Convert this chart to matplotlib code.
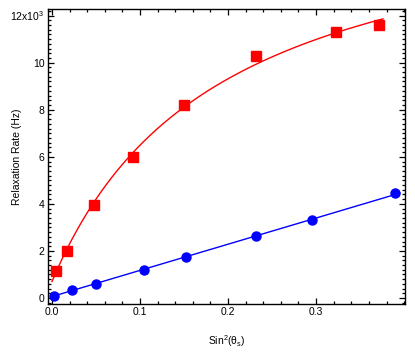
import numpy as np
import matplotlib
matplotlib.use("Agg")
import matplotlib.pyplot as plt
from matplotlib.ticker import MultipleLocator, FixedLocator, FixedFormatter

plt.rcParams['font.family'] = ['Liberation Sans', 'DejaVu Sans']
plt.rcParams['mathtext.fontset'] = 'custom'
plt.rcParams['mathtext.rm'] = 'Liberation Sans'
plt.rcParams['mathtext.it'] = 'Liberation Sans'

# data (rates in units of 10^3 Hz)
red_x = [0.005, 0.017, 0.048, 0.092, 0.150, 0.232, 0.323, 0.372]
red_y = [1.15, 2.00, 3.95, 6.00, 8.20, 10.30, 11.30, 11.60]
blue_x = [0.002, 0.023, 0.050, 0.104, 0.152, 0.232, 0.295, 0.390]
blue_y = [0.10, 0.35, 0.60, 1.20, 1.75, 2.62, 3.30, 4.45]

# fit parameters for red curve: y = c + a*x/(b+x)
red_fit_c, red_fit_a, red_fit_b = 0.70, 16.8, 0.19

y_ticks = [0, 2, 4, 6, 8, 10, 12]
y_ticklabels = ['0', '2', '4', '6', '8', '10', r'12x10$^{3}$']
x_ticks = [0.0, 0.1, 0.2, 0.3]
x_ticklabels = ['0.0', '0.1', '0.2', '0.3']

fig = plt.figure(figsize=(4.15, 3.55), dpi=100)
ax = fig.add_axes([48/415, 1-304/355, (405-48)/415, (304-9)/355])

xr = np.linspace(0.0, 0.376, 200)
ax.plot(xr, red_fit_c + red_fit_a*xr/(red_fit_b+xr), color='#ff0000', lw=1.0, zorder=2)
p = np.polyfit(blue_x, blue_y, 1)
xb = np.linspace(0.0, 0.395, 50)
ax.plot(xb, np.polyval(p, xb), color='#0000ff', lw=1.0, zorder=2)

ax.plot(red_x, red_y, 's', color='#ff0000', ms=6.5, mec='#ff0000', zorder=3)
ax.plot(blue_x, blue_y, 'o', color='#0000ff', ms=6.5, mec='#0000ff', zorder=3)

ax.set_xlim(-0.0045, 0.401)
ax.set_ylim(-0.255, 12.28)

ax.xaxis.set_major_locator(FixedLocator(x_ticks))
ax.xaxis.set_major_formatter(FixedFormatter(x_ticklabels))
ax.xaxis.set_minor_locator(MultipleLocator(0.02))
ax.yaxis.set_major_locator(FixedLocator(y_ticks))
ax.yaxis.set_major_formatter(FixedFormatter(y_ticklabels))
ax.yaxis.set_minor_locator(MultipleLocator(0.2))

ax.tick_params(which='both', direction='in', top=True, right=True, width=0.9, labelsize=7.5, pad=2.5)
ax.tick_params(which='major', length=4.5)
ax.tick_params(which='minor', length=2.3)
for s in ax.spines.values():
    s.set_linewidth(1.0)

ax.set_xlabel(r'Sin$^{2}$($\theta_{s}$)', fontsize=7.5)
ax.xaxis.label.set_va('center')
ax.xaxis.set_label_coords(0.5, (304-341)/295)
ax.set_ylabel('Relaxation Rate (Hz)', fontsize=7.5)
ax.yaxis.label.set_va('center')
ax.yaxis.set_label_coords((17-48)/357, 0.5)

fig.savefig('out.png', dpi=100)
